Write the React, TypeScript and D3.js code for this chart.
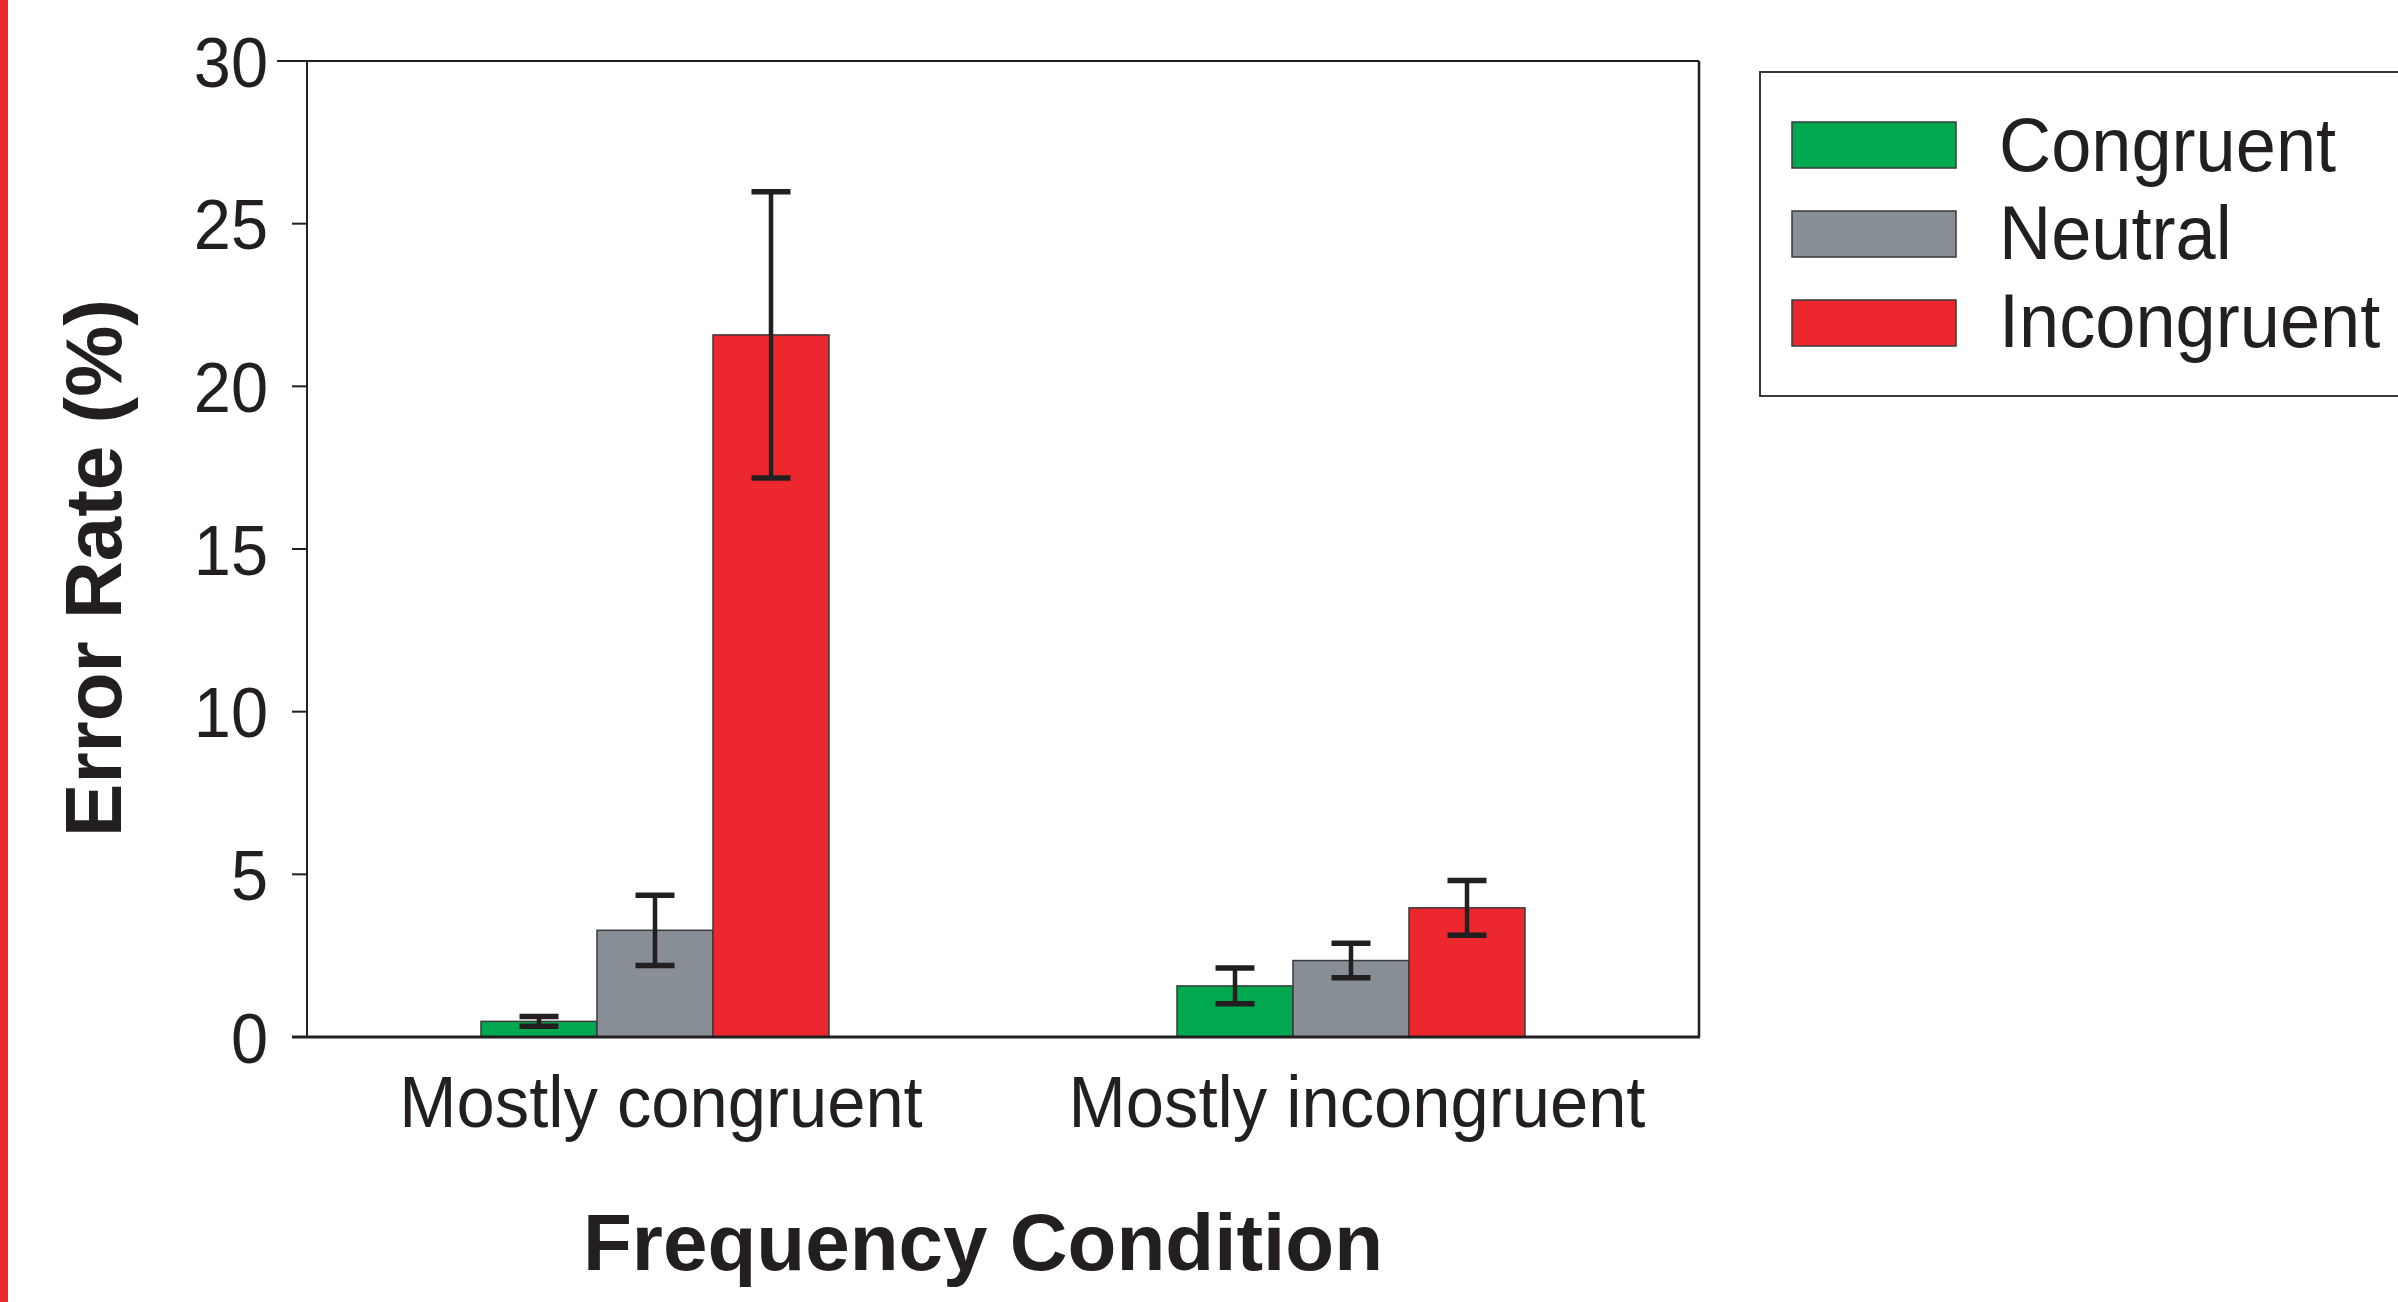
import React from "react";
import * as d3 from "d3";

const categories = ["Mostly congruent", "Mostly incongruent"];
const seriesNames = ["Congruent", "Neutral", "Incongruent"];
const congruentValues = [0.48, 1.57];
const neutralValues = [3.28, 2.35];
const incongruentValues = [21.58, 3.97];
const congruentErrors = [0.15, 0.55];
const neutralErrors = [1.08, 0.53];
const incongruentErrors = [4.4, 0.84];
const yTicks = [0, 5, 10, 15, 20, 25, 30];
const seriesColors = ["#00a84f", "#878e95", "#ec282e"];

const W = 2398;
const H = 1302;
const M = { left: 307, right: 1699, top: 61, bottom: 1037 };
const ink = "#231f20";
const font = "'Liberation Sans', Arial, Helvetica, sans-serif";

function NarrowText(props: {
  x: number;
  y: number;
  size: number;
  sx: number;
  anchor?: string;
  dy?: string;
  children: any;
}) {
  return (
    <text
      transform={`translate(${props.x},${props.y}) scale(${props.sx},1)`}
      dy={props.dy}
      textAnchor={props.anchor || "start"}
      fontFamily={font}
      fontSize={props.size}
      fill={ink}
    >
      {props.children}
    </text>
  );
}

export default function App() {
  const y = d3.scaleLinear().domain([0, 30]).range([M.bottom, M.top]);
  const x0 = d3.scaleBand<string>().domain(categories).range([M.left, M.right]).padding(0);
  const x1 = d3
    .scaleBand<string>()
    .domain(seriesNames)
    .range([0, x0.bandwidth()])
    .paddingInner(0)
    .paddingOuter(1.5);

  const values = [congruentValues, neutralValues, incongruentValues];
  const errors = [congruentErrors, neutralErrors, incongruentErrors];

  const bars: any[] = [];
  categories.forEach((cat, ci) => {
    seriesNames.forEach((s, si) => {
      bars.push({ cat, s, si, v: values[si][ci], e: errors[si][ci] });
    });
  });

  const capHalf = 19.5;

  return (
    <div style={{ position: "fixed", left: 0, top: 0 }}>
      <svg width={W} height={H} style={{ display: "block", background: "#fff" }}>
        <rect x={0} y={0} width={W} height={H} fill="#fff" />
        <rect x={0} y={0} width={8} height={H} fill="#ee2a2f" />

        {/* bars */}
        {bars.map((b, i) => {
          const bx = (x0(b.cat) as number) + (x1(b.s) as number);
          return (
            <rect
              key={"bar" + i}
              x={bx}
              y={y(b.v)}
              width={x1.bandwidth()}
              height={y(0) - y(b.v)}
              fill={seriesColors[b.si]}
              stroke="#3a3a3a"
              strokeWidth={1.5}
            />
          );
        })}

        {/* error bars */}
        {bars.map((b, i) => {
          const cx = (x0(b.cat) as number) + (x1(b.s) as number) + x1.bandwidth() / 2;
          const top = y(b.v + b.e);
          const bot = y(b.v - b.e);
          return (
            <g key={"err" + i} stroke={ink}>
              <line x1={cx} x2={cx} y1={top} y2={bot} strokeWidth={4.5} />
              <line x1={cx - capHalf} x2={cx + capHalf} y1={top} y2={top} strokeWidth={5.5} />
              <line x1={cx - capHalf} x2={cx + capHalf} y1={bot} y2={bot} strokeWidth={5.5} />
            </g>
          );
        })}

        {/* frame */}
        <line x1={277} x2={M.right} y1={M.top} y2={M.top} stroke={ink} strokeWidth={2} />
        <line x1={M.right} x2={M.right} y1={M.top} y2={M.bottom} stroke={ink} strokeWidth={2.5} />
        <line x1={M.left} x2={M.left} y1={M.top} y2={M.bottom} stroke={ink} strokeWidth={2} />
        <line x1={292} x2={M.right + 1} y1={M.bottom} y2={M.bottom} stroke={ink} strokeWidth={3} />

        {/* y ticks */}
        {yTicks.map((t) => (
          <g key={"t" + t}>
            <line x1={292} x2={M.left} y1={y(t)} y2={y(t)} stroke={ink} strokeWidth={2} />
            <NarrowText x={268} y={y(t)} dy="0.36em" anchor="end" size={71} sx={0.94}>
              {t}
            </NarrowText>
          </g>
        ))}

        {/* category labels */}
        {categories.map((c) => (
          <NarrowText
            key={c}
            x={(x0(c) as number) + x0.bandwidth() / 2 + 6}
            y={1127}
            anchor="middle"
            size={72}
            sx={0.955}
          >
            {c}
          </NarrowText>
        ))}

        {/* axis titles */}
        <text
          x={983}
          y={1270}
          textAnchor="middle"
          fontFamily={font}
          fontWeight="bold"
          fontSize={80}
          fill={ink}
        >
          Frequency Condition
        </text>
        <text
          transform={`translate(121, 568) rotate(-90)`}
          textAnchor="middle"
          fontFamily={font}
          fontWeight="bold"
          fontSize={80}
          fill={ink}
        >
          Error Rate (%)
        </text>

        {/* legend */}
        <rect x={1760} y={72} width={700} height={324} fill="#fff" stroke="#3a3a3a" strokeWidth={2} />
        {seriesNames.map((s, i) => (
          <g key={"lg" + s}>
            <rect
              x={1792}
              y={122 + i * 89}
              width={164}
              height={46}
              fill={seriesColors[i]}
              stroke="#3a3a3a"
              strokeWidth={1.5}
            />
            <NarrowText x={1999} y={171 + i * 88} size={76} sx={0.95}>
              {s}
            </NarrowText>
          </g>
        ))}
      </svg>
    </div>
  );
}
